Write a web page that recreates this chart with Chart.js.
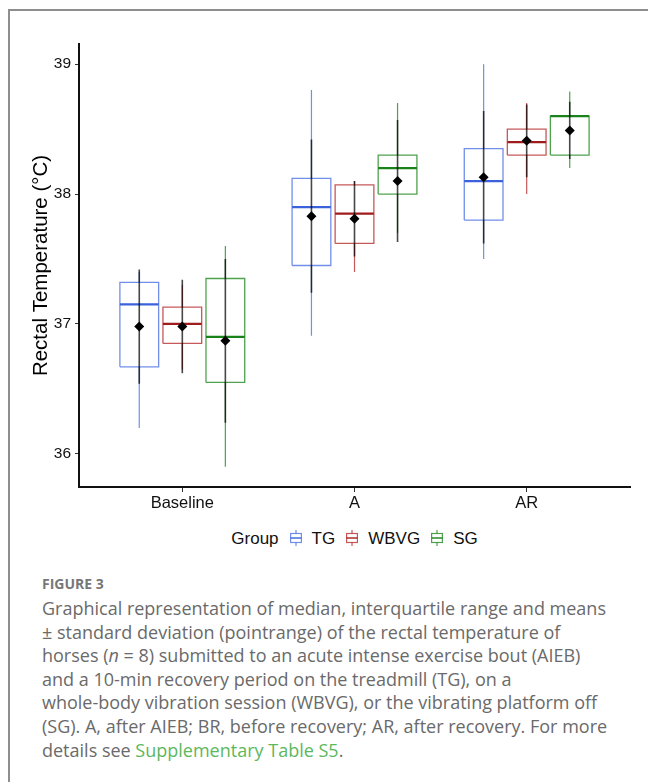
<!DOCTYPE html>
<html>
<head>
<meta charset="utf-8">
<title>Rectal temperature</title>
<script src="https://cdn.jsdelivr.net/npm/chart.js@4.4.1/dist/chart.umd.min.js"></script>
<style>
    html, body { margin: 0; padding: 0; background: #fff; }
    #frame {
        position: absolute; left: 8px; top: 9px; width: 640px; height: 773px;
        border-left: 2px solid #8e8e8e; border-top: 2px solid #8e8e8e;
    }
    #plot { position: absolute; left: 0; top: 0; }
    #legend {
        position: absolute; left: 79px; top: 529px; width: 551px; text-align: center;
        font-family: "Liberation Sans", Arial, sans-serif; font-size: 17px; color: #111;
        white-space: nowrap;
    }
    #legend svg { vertical-align: -2px; margin: 0 10px 0 11px; }
    #caption {
        position: absolute; left: 42px; top: 574px;
        font-family: "Open Sans", "Noto Sans", sans-serif; color: #6a6a6a;
    }
    #caption .fig { font-size: 14px; font-weight: 700; color: #777; line-height: 20px; margin-bottom: 3px; }
    #caption .txt { font-size: 18px; line-height: 23.6px; white-space: nowrap; }
    #caption .link { color: #5cb85c; }
</style>
</head>
<body>
<div id="frame"></div>
<canvas id="plot" width="648" height="520"></canvas>
<div id="legend"></div>
<div id="caption">
    <div class="fig">FIGURE 3</div>
    <div class="txt">
        Graphical representation of median, interquartile range and means<br>
        ± standard deviation (pointrange) of the rectal temperature of<br>
        horses (<i>n</i> = 8) submitted to an acute intense exercise bout (AIEB)<br>
        and a 10-min recovery period on the treadmill (TG), on a<br>
        whole-body vibration session (WBVG), or the vibrating platform off<br>
        (SG). A, after AIEB; BR, before recovery; AR, after recovery. For more<br>
        details see <span class="link">Supplementary Table S5</span>.
    </div>
</div>
<script>
// ----- D A T A
const categories = ["Baseline", "A", "AR"];
const groups = ["TG", "WBVG", "SG"];
const yTicks = [36, 37, 38, 39];

// TG
const tgMin = [36.20, 36.91, 37.50];
const tgQ1 = [36.67, 37.45, 37.80];
const tgMedian = [37.15, 37.90, 38.10];
const tgQ3 = [37.32, 38.12, 38.35];
const tgMax = [37.40, 38.80, 39.00];
const tgMean = [36.98, 37.83, 38.13];
const tgSd = [0.44, 0.59, 0.51];

// WBVG
const wbvgMin = [36.65, 37.40, 38.00];
const wbvgQ1 = [36.85, 37.62, 38.30];
const wbvgMedian = [37.00, 37.85, 38.40];
const wbvgQ3 = [37.13, 38.07, 38.50];
const wbvgMax = [37.30, 38.10, 38.70];
const wbvgMean = [36.98, 37.81, 38.41];
const wbvgSd = [0.36, 0.29, 0.28];

// SG
const sgMin = [35.90, 37.70, 38.20];
const sgQ1 = [36.55, 38.00, 38.30];
const sgMedian = [36.90, 38.20, 38.60];
const sgQ3 = [37.35, 38.30, 38.60];
const sgMax = [37.60, 38.70, 38.79];
const sgMean = [36.87, 38.10, 38.49];
const sgSd = [0.63, 0.47, 0.22];

// ----- S E T T I N G S
const
    FONT_FAMILY = "'Liberation Sans', Arial, sans-serif",
    DODGE = 0.25,
    HALF_BOX = 0.1125,
    colors = {
        TG: { box: "rgba(65,105,225,0.75)", median: "rgb(58,98,220)", whisker: "rgba(65,105,225,0.75)" },
        WBVG: { box: "rgba(178,34,34,0.75)", median: "rgb(160,28,28)", whisker: "rgba(178,34,34,0.75)" },
        SG: { box: "rgba(34,139,34,0.8)", median: "rgb(26,130,26)", whisker: "rgba(34,139,34,0.8)" },
    },
    stats = {
        TG: { min: tgMin, q1: tgQ1, median: tgMedian, q3: tgQ3, max: tgMax, mean: tgMean, sd: tgSd },
        WBVG: { min: wbvgMin, q1: wbvgQ1, median: wbvgMedian, q3: wbvgQ3, max: wbvgMax, mean: wbvgMean, sd: wbvgSd },
        SG: { min: sgMin, q1: sgQ1, median: sgMedian, q3: sgQ3, max: sgMax, mean: sgMean, sd: sgSd },
    };

const GAP = { x: null, y: null };

/**
 * @name groupDatasets
 * @description Builds box, median, whisker and mean +- sd datasets of one group
 */
function groupDatasets(name, gi) {
    const s = stats[name], c = colors[name];
    const box = [], med = [], whisk = [], sdLine = [], means = [];
    categories.forEach((cat, i) => {
        const x = i + DODGE * (gi - 1);
        box.push({ x: x - HALF_BOX, y: s.q1[i] }, { x: x + HALF_BOX, y: s.q1[i] },
            { x: x + HALF_BOX, y: s.q3[i] }, { x: x - HALF_BOX, y: s.q3[i] },
            { x: x - HALF_BOX, y: s.q1[i] }, GAP);
        med.push({ x: x - HALF_BOX, y: s.median[i] }, { x: x + HALF_BOX, y: s.median[i] }, GAP);
        whisk.push({ x: x, y: s.min[i] }, { x: x, y: s.q1[i] }, GAP,
            { x: x, y: s.q3[i] }, { x: x, y: s.max[i] }, GAP);
        sdLine.push({ x: x, y: s.mean[i] - s.sd[i] }, { x: x, y: s.mean[i] + s.sd[i] }, GAP);
        means.push({ x: x, y: s.mean[i] });
    });
    const line = { showLine: true, pointRadius: 0, fill: false, spanGaps: false, borderJoinStyle: "miter" };
    return [
        { ...line, label: name + " whisker", data: whisk, borderColor: c.whisker, borderWidth: 1.2, order: 4 },
        { ...line, label: name + " box", data: box, borderColor: c.box, borderWidth: 1.3, order: 3 },
        { ...line, label: name + " median", data: med, borderColor: c.median, borderWidth: 2.2, order: 2 },
        { ...line, label: name + " sd", data: sdLine, borderColor: "rgba(0,0,0,0.72)", borderWidth: 1.6, order: 1 },
        {
            label: name + " mean", data: means, showLine: false, pointStyle: "rectRot", pointRadius: 5,
            backgroundColor: "#000", borderColor: "#000", borderWidth: 0, order: 0
        },
    ];
}

const datasets = groups.flatMap((g, gi) => groupDatasets(g, gi));

new Chart(document.getElementById("plot"), {
    type: "scatter",
    data: { datasets: datasets },
    options: {
        responsive: false,
        animation: false,
        layout: { padding: { top: 44, right: 18, left: 0, bottom: 0 } },
        plugins: { legend: { display: false }, tooltip: { enabled: false } },
        scales: {
            x: {
                type: "linear", min: -0.6, max: 2.6,
                afterBuildTicks: (scale) => { scale.ticks = categories.map((c, i) => ({ value: i })); },
                afterFit: (scale) => { scale.height = 33; },
                ticks: {
                    callback: (v) => categories[v],
                    font: { family: FONT_FAMILY, size: 16.5 }, color: "#111", padding: 2, maxRotation: 0,
                },
                grid: { drawOnChartArea: false, drawTicks: true, tickLength: 5, color: "#333" },
                border: { color: "#111", width: 2 },
            },
            y: {
                min: 35.745, max: 39.155,
                afterBuildTicks: (scale) => { scale.ticks = yTicks.map((v) => ({ value: v })); },
                afterFit: (scale) => { scale.width = 79; },
                ticks: { font: { family: FONT_FAMILY, size: 15.5 }, color: "#111", padding: 4 },
                grid: { drawOnChartArea: false, drawTicks: true, tickLength: 4, color: "#333" },
                border: { color: "#111", width: 2 },
                title: {
                    display: true, text: "Rectal Temperature (°C)", color: "#000",
                    font: { family: FONT_FAMILY, size: 20.5 }, padding: { top: 29, bottom: 0 },
                },
            },
        },
    },
});

// ----- L E G E N D
function glyph(c) {
    return `<svg width="12" height="16" viewBox="0 0 12 16">` +
        `<line x1="6" y1="0" x2="6" y2="16" stroke="${c.whisker}" stroke-width="1.2"/>` +
        `<rect x="0.6" y="3.5" width="10.8" height="9" fill="#fff" stroke="${c.box}" stroke-width="1.2"/>` +
        `<line x1="0.6" y1="8" x2="11.4" y2="8" stroke="${c.median}" stroke-width="1.4"/></svg>`;
}
document.getElementById("legend").innerHTML = "Group" +
    groups.map((g) => glyph(colors[g]) + g).join("");
</script>
</body>
</html>
